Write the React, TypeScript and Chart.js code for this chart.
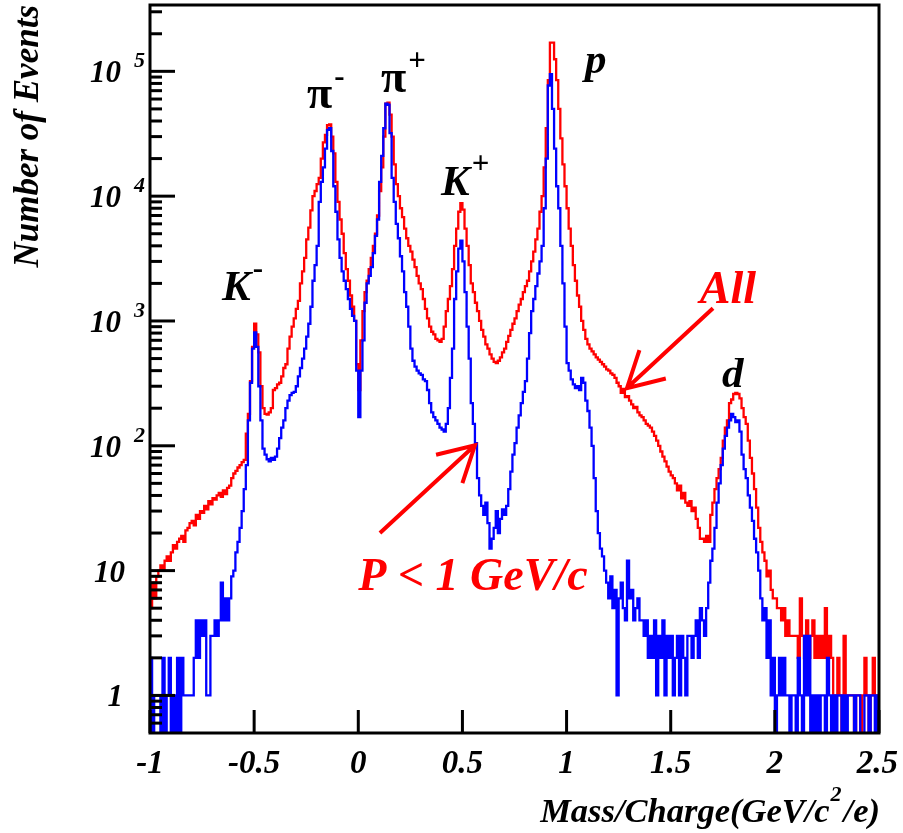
import React, { useEffect, useRef } from "react";
import { Chart, registerables } from "chart.js";

Chart.register(...registerables);

// Histogram binning: 350 bins of 0.01 GeV/c^2/e from -1 to 2.5
const BIN_MIN = -1.0;
const BIN_WIDTH = 0.01;

// "All" tracks (red)
const ALL_COUNTS = [
  5, 8, 6, 9, 10, 11, 10, 12, 13, 12,
  14, 16, 15, 17, 18, 19, 17, 21, 22, 24,
  25, 23, 28, 26, 30, 29, 33, 31, 36, 34,
  38, 37, 40, 42, 39, 44, 41, 46, 48, 55,
  60, 63, 67, 70, 74, 77, 125, 180, 330, 620,
  950, 780, 560, 300, 200, 180, 178, 185, 200, 280,
  290, 310, 320, 360, 420, 450, 600, 750, 900, 1050,
  1250, 1450, 2000, 2500, 3200, 4500, 5600, 7700, 10000, 11000,
  12500, 14000, 20000, 27000, 31000, 37000, 37500, 30000, 22000, 13000,
  9000, 6500, 5000, 3500, 2600, 2100, 1600, 1300, 1000, 450,
  280, 700, 1200, 1700, 2100, 2600, 3200, 4000, 5000, 7000,
  11000, 17000, 30000, 55000, 56000, 45000, 30000, 18000, 12500, 10000,
  8000, 6800, 5500, 4600, 4000, 3600, 3100, 2700, 2300, 2000,
  1800, 1500, 1250, 1050, 900, 820, 780, 720, 700, 680,
  720, 900, 1200, 1500, 1900, 2600, 4000, 5500, 7500, 8800,
  7800, 5500, 4000, 2800, 2000, 1700, 1400, 1200, 1000, 850,
  750, 650, 600, 540, 500, 470, 460, 480, 510, 560,
  600, 680, 760, 850, 950, 1050, 1200, 1350, 1500, 1700,
  1900, 2100, 2500, 3000, 3600, 4500, 5500, 7500, 10000, 17000,
  35000, 85000, 170000, 170000, 125000, 85000, 50000, 29000, 18000, 12000,
  8000, 5500, 4000, 2800, 2100, 1600, 1300, 1000, 850, 720,
  650, 600, 570, 540, 510, 490, 470, 450, 430, 410,
  400, 380, 370, 350, 320, 300, 265, 285, 245, 250,
  230, 215, 200, 205, 185, 175, 170, 160, 150, 145,
  140, 130, 120, 110, 100, 90, 82, 75, 68, 62,
  58, 55, 50, 44, 48, 38, 42, 35, 33, 36,
  30, 32, 26, 22, 18, 18, 17, 19, 17, 28,
  35, 45, 55, 65, 80, 110, 140, 160, 220, 235,
  260, 265, 260, 240, 200, 170, 150, 110, 80, 60,
  45, 32, 22, 17, 14, 12, 9, 10, 7, 6,
  6, 5, 5, 4, 5, 3, 4, 3, 3, 3,
  3, 2, 6, 3, 2, 4, 2, 3, 4, 2,
  3, 2, 3, 2, 5, 2, 3, 2, 1, 1,
  2, 1, 0, 3, 1, 1, 1, 1, 0, 1,
  1, 0, 1, 2, 1, 0, 1, 2, 1, 1,
];

// P < 1 GeV/c tracks (blue)
const LOWP_COUNTS = [
  2, 0, 1, 1, 1, 0, 2, 0, 1, 2,
  0, 1, 0, 2, 0, 2, 1, 1, 1, 1,
  1, 2, 4, 2, 4, 3, 4, 1, 1, 3,
  3, 4, 3, 4, 8, 4, 6, 4, 6, 9,
  10, 14, 17, 22, 30, 45, 70, 160, 320, 600,
  810, 620, 300, 160, 95, 85, 78, 75, 80, 77,
  82, 95, 115, 140, 160, 200, 230, 255, 265, 270,
  300, 360, 420, 500, 600, 750, 950, 1300, 2100, 2800,
  4000, 9000, 13000, 17000, 24000, 34000, 35000, 23000, 12000, 7500,
  4500, 3200, 2500, 2100, 1800, 1500, 1250, 1100, 1000, 400,
  170, 400, 700, 1400, 2000, 2300, 2700, 3500, 4800, 6500,
  13000, 21000, 35000, 55000, 54000, 32000, 14000, 9000, 6000, 4600,
  3300, 2500, 1700, 1300, 900, 600, 480, 430, 400, 380,
  370, 340, 330, 280, 220, 185, 170, 160, 150, 140,
  135, 130, 150, 200, 350, 600, 1500, 2500, 3800, 4400,
  3000, 1700, 900, 500, 220, 150, 105, 55, 40, 33,
  28, 35, 24, 15, 18, 22, 30, 20, 26, 31,
  28, 33, 45, 62, 85, 105, 140, 175, 220, 270,
  330, 500, 800, 1200, 1500, 1900, 2400, 3000, 4000, 8000,
  20000, 77000, 95000, 50000, 24000, 12000, 8000, 4000, 2000, 900,
  460, 400, 340, 310, 290, 300, 280, 350, 320, 230,
  190, 140, 100, 55, 30, 20, 15, 13, 10, 8,
  6, 9, 5, 7, 1, 6, 8, 5, 4, 12,
  6, 7, 4, 5, 6, 4, 4, 3, 4, 2,
  3, 2, 4, 1, 3, 2, 4, 1, 3, 2,
  3, 1, 2, 3, 1, 3, 2, 1, 3, 3,
  2, 3, 4, 2, 5, 4, 3, 5, 8, 12,
  15, 22, 35, 50, 70, 95, 120, 140, 160, 180,
  170, 155, 160, 130, 85, 65, 55, 40, 32, 25,
  18, 14, 10, 6, 4, 5, 2, 4, 1, 2,
  0, 1, 2, 1, 2, 1, 1, 0, 1, 1,
  0, 2, 1, 0, 3, 1, 3, 0, 1, 0,
  1, 0, 1, 1, 0, 2, 1, 0, 1, 0,
  1, 1, 0, 1, 0, 1, 1, 1, 0, 1,
  1, 0, 0, 1, 1, 0, 1, 1, 0, 1,
];

const X_MIN = -1;
const X_MAX = 2.5;
const Y_MIN = 0.5;
const Y_MAX = 3.4e5;

const X_TICKS = [-1, -0.5, 0, 0.5, 1, 1.5, 2, 2.5];
const X_TICK_LABELS = ["-1", "-0.5", "0", "0.5", "1", "1.5", "2", "2.5"];
const Y_TICK_EXPONENTS = [0, 1, 2, 3, 4, 5];

const X_TITLE_PARTS = ["Mass/Charge(GeV/c", "2", "/e)"];
const Y_TITLE = "Number of Events";

// Peak labels anchored in data coordinates (left edge, baseline)
const PEAK_LABELS = [
  { main: "K", sup: "-", x: -0.654, y: 1465, italic: true },
  { main: "π", sup: "-", x: -0.246, y: 51200, italic: false },
  { main: "π", sup: "+", x: 0.109, y: 68800, italic: false },
  { main: "K", sup: "+", x: 0.397, y: 10130, italic: true },
  { main: "p", sup: "", x: 1.088, y: 97700, italic: true },
  { main: "d", sup: "", x: 1.746, y: 295, italic: true },
];

const SERIES_LABELS = [
  { text: "All", x: 1.64, y: 1386 },
  { text: "P < 1 GeV/c", x: 0.0, y: 7.0 },
];

const ARROWS = [
  { x0: 1.703, y0: 1264, x1: 1.29, y1: 290 },
  { x0: 0.104, y0: 20, x1: 0.56, y1: 101 },
];

const FONT_FAMILY = '"Liberation Serif", "Times New Roman", serif';
const ZERO_FLOOR = 0.05;

function font(size: number, italic = true): string {
  return `${italic ? "italic " : ""}bold ${size}px ${FONT_FAMILY}`;
}

function toPoints(counts: number[]) {
  const pts = counts.map((c, i) => ({
    x: BIN_MIN + i * BIN_WIDTH,
    y: c > 0 ? c : ZERO_FLOOR,
  }));
  const last = counts[counts.length - 1];
  pts.push({ x: BIN_MIN + counts.length * BIN_WIDTH, y: last > 0 ? last : ZERO_FLOOR });
  return pts;
}

const framePlugin = {
  id: "rootFrame",
  afterDraw(chart: any) {
    const { ctx, chartArea: a } = chart;
    const xs = chart.scales.x;
    const ys = chart.scales.y;
    ctx.save();
    ctx.strokeStyle = "#000";
    ctx.fillStyle = "#000";
    ctx.lineCap = "butt";

    // y ticks (log, inside)
    ctx.lineWidth = 3;
    for (let e = -1; e <= 6; e++) {
      for (let m = 1; m <= 9; m++) {
        const v = m * Math.pow(10, e);
        if (v <= Y_MIN * 1.001 || v > Y_MAX) continue;
        const py = ys.getPixelForValue(v);
        const len = m === 1 ? 25 : 12;
        ctx.beginPath();
        ctx.moveTo(a.left, py);
        ctx.lineTo(a.left + len, py);
        ctx.stroke();
      }
    }
    // x ticks
    X_TICKS.forEach((v) => {
      const px = xs.getPixelForValue(v);
      ctx.beginPath();
      ctx.moveTo(px, a.bottom);
      ctx.lineTo(px, a.bottom - 23);
      ctx.stroke();
    });

    // frame
    ctx.lineWidth = 3;
    ctx.strokeRect(a.left, a.top, a.right - a.left, a.bottom - a.top);

    // y tick labels
    ctx.textBaseline = "alphabetic";
    Y_TICK_EXPONENTS.forEach((e) => {
      const py = ys.getPixelForValue(Math.pow(10, e));
      ctx.font = font(31);
      if (e === 0) {
        ctx.textAlign = "right";
        ctx.fillText("1", a.left - 27, py + 11);
      } else if (e === 1) {
        ctx.textAlign = "right";
        ctx.fillText("10", a.left - 25, py + 11);
      } else {
        ctx.textAlign = "right";
        ctx.fillText("10", a.left - 29, py + 11);
        ctx.font = font(22);
        ctx.textAlign = "left";
        ctx.fillText(String(e), a.left - 16, py - 4);
      }
    });

    // x tick labels
    ctx.font = font(33);
    ctx.textAlign = "left";
    X_TICKS.forEach((v, i) => {
      const px = xs.getPixelForValue(v);
      const label = X_TICK_LABELS[i];
      const w = ctx.measureText(label).width;
      let left = px - w / 2;
      if (left + w > chart.width - 5) left = chart.width - 5 - w;
      ctx.fillText(label, left, a.bottom + 40);
    });

    // x title (right aligned to axis end)
    const mainF = font(34.5);
    const supF = font(22);
    ctx.font = mainF;
    const w0 = ctx.measureText(X_TITLE_PARTS[0]).width;
    const w2 = ctx.measureText(X_TITLE_PARTS[2]).width;
    ctx.font = supF;
    const w1 = ctx.measureText(X_TITLE_PARTS[1]).width + 3;
    let tx = a.right + 1 - (w0 + w1 + w2);
    const ty = a.bottom + 89;
    ctx.font = mainF;
    ctx.fillText(X_TITLE_PARTS[0], tx, ty);
    tx += w0;
    ctx.font = supF;
    ctx.fillText(X_TITLE_PARTS[1], tx + 1, ty - 21);
    tx += w1;
    ctx.font = mainF;
    ctx.fillText(X_TITLE_PARTS[2], tx, ty);

    // y title (rotated, right aligned to top)
    ctx.save();
    ctx.translate(38, a.top);
    ctx.rotate(-Math.PI / 2);
    ctx.font = font(35);
    ctx.textAlign = "right";
    ctx.fillText(Y_TITLE, 0, 0);
    ctx.restore();

    // peak labels
    ctx.textAlign = "left";
    PEAK_LABELS.forEach((l) => {
      const px = xs.getPixelForValue(l.x);
      const py = ys.getPixelForValue(l.y);
      ctx.font = font(l.italic ? 43 : 46, l.italic);
      ctx.fillText(l.main, px, py);
      if (l.sup) {
        const w = ctx.measureText(l.main).width;
        ctx.font = font(31, false);
        ctx.fillText(l.sup, px + w + 2, py - 22);
      }
    });

    // red labels and arrows
    ctx.fillStyle = "#ff0000";
    ctx.strokeStyle = "#ff0000";
    ctx.font = font(46);
    SERIES_LABELS.forEach((l) => {
      ctx.fillText(l.text, xs.getPixelForValue(l.x), ys.getPixelForValue(l.y));
    });
    ctx.lineWidth = 4;
    ctx.lineCap = "butt";
    ARROWS.forEach((ar) => {
      const x0 = xs.getPixelForValue(ar.x0);
      const y0 = ys.getPixelForValue(ar.y0);
      const x1 = xs.getPixelForValue(ar.x1);
      const y1 = ys.getPixelForValue(ar.y1);
      ctx.beginPath();
      ctx.moveTo(x0, y0);
      ctx.lineTo(x1, y1);
      const ang = Math.atan2(y0 - y1, x0 - x1);
      const hl = 40;
      const ha = (29 * Math.PI) / 180;
      ctx.moveTo(x1 + hl * Math.cos(ang - ha), y1 + hl * Math.sin(ang - ha));
      ctx.lineTo(x1, y1);
      ctx.lineTo(x1 + hl * Math.cos(ang + ha), y1 + hl * Math.sin(ang + ha));
      ctx.stroke();
    });

    ctx.restore();
  },
};

export default function App() {
  const canvasRef = useRef<HTMLCanvasElement | null>(null);

  useEffect(() => {
    const canvas = canvasRef.current;
    if (!canvas) return;
    const chart = new Chart(canvas, {
      type: "line",
      data: {
        datasets: [
          {
            label: "P < 1 GeV/c",
            data: toPoints(LOWP_COUNTS),
            borderColor: "#0000ff",
            backgroundColor: "#0000ff",
            borderWidth: 2.3,
            stepped: true,
            pointRadius: 0,
            fill: false,
            order: 1,
          },
          {
            label: "All",
            data: toPoints(ALL_COUNTS),
            borderColor: "#ff0000",
            backgroundColor: "#ff0000",
            borderWidth: 2.3,
            stepped: true,
            pointRadius: 0,
            fill: false,
            order: 2,
          },
        ],
      },
      options: {
        animation: false,
        responsive: false,
        devicePixelRatio: 1,
        events: [],
        layout: { padding: { left: 150, right: 24, top: 5, bottom: 100 } },
        plugins: { legend: { display: false }, tooltip: { enabled: false } },
        scales: {
          x: { type: "linear", min: X_MIN, max: X_MAX, display: false },
          y: { type: "logarithmic", min: Y_MIN, max: Y_MAX, display: false },
        },
      },
      plugins: [framePlugin],
    } as any);
    return () => chart.destroy();
  }, []);

  return (
    <div style={{ position: "fixed", left: 0, top: 0, width: 903, height: 833, background: "#fff" }}>
      <canvas ref={canvasRef} width={903} height={833} style={{ display: "block" }} />
    </div>
  );
}
